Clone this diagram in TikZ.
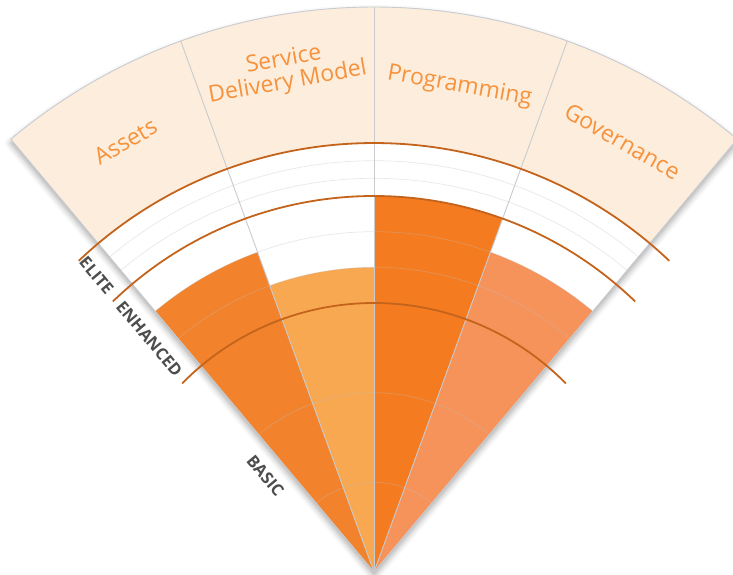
\documentclass[tikz,border=0pt]{standalone}
\usepackage{fontspec}
\setmainfont{Open Sans}
\definecolor{fanassets}{RGB}{242,131,44}
\definecolor{fanservice}{RGB}{249,168,82}
\definecolor{fanprog}{RGB}{244,123,32}
\definecolor{fangov}{RGB}{246,147,90}
\definecolor{fanband}{RGB}{253,237,220}
\definecolor{fanarc}{RGB}{196,100,28}
\definecolor{fandivider}{RGB}{200,203,208}
\definecolor{fanlabel}{RGB}{247,146,60}
\definecolor{fanlevel}{RGB}{77,77,77}
\usetikzlibrary{shadows.blur}
\tikzset{
  catlabel/.style={text=fanlabel, font=\fontsize{23}{23}\selectfont, align=center, inner sep=0pt},
  levellabel/.style={text=fanlevel, font=\bfseries\fontsize{16.5}{17}\selectfont, inner sep=0pt, rotate=-50},
  levelarc/.style={draw=fanarc, line width=1.8pt},
  gridarc/.style={draw=gray!50, opacity=0.35, line width=0.7pt},
  divider/.style={draw=fandivider, line width=0.9pt},
}

\begin{document}
\begin{tikzpicture}[x=1pt,y=1pt]
  \useasboundingbox (-374,-3) rectangle (359,572);

  % fan and label band
  \fill [white, blur shadow={shadow xshift=0pt, shadow yshift=-4pt, shadow blur radius=6pt, shadow opacity=35}]
    (0,0) -- (50:565) arc[start angle=50, end angle=130, radius=565] -- cycle;
  \fill [fanband] (50:429) arc[start angle=50, end angle=130, radius=429]
    -- (130:565) arc[start angle=130, end angle=50, radius=565] -- cycle;

  % bars
  \foreach \a/\r/\c in {110/340.3/fanassets, 90/304.7/fanservice, 70/376/fanprog, 50/340.3/fangov}
    \fill [\c] (0,0) -- (\a:\r) arc[start angle=\a, delta angle=20, radius=\r] -- cycle;

  % score steps
  \foreach \r in {89.7,179.3,304.7,340.3,393.7,411.3}
    \draw [gridarc] (50:\r) arc[start angle=50, end angle=130, radius=\r];

  \foreach \a in {70,90,110}
    \draw [divider] (0,0) -- (\a:565);
  \draw [divider] (130:565) -- (0,0) -- (50:565) arc[start angle=50, end angle=130, radius=565];

  % level limits
  \foreach \r/\d in {429/3.5, 376/4, 269/5.5}
    \draw [levelarc] (50-\d:\r) arc[start angle=50-\d, end angle=130+\d, radius=\r];

  \node [catlabel, rotate=30] (assets) at (120:497) {Assets};
  \node [catlabel, rotate=10] (service) at (100:508) {Service\\Delivery Model};
  \node [catlabel, rotate=-10] (prog) at (80:493) {Programming};
  \node [catlabel, rotate=-30] (gov) at (60:497) {Governance};

  \node [levellabel] (elite) at (133.1:406) {ELITE};
  \node [levellabel] (enhanced) at (133.9:324) {ENHANCED};
  \node [levellabel] (basic) at (138.5:145) {BASIC};

\end{tikzpicture}
\end{document}
